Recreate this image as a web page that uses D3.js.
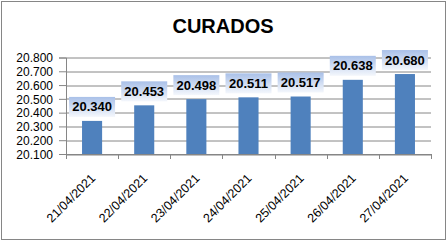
<!DOCTYPE html>
<html>
<head>
<meta charset="utf-8">
<script src="https://cdn.jsdelivr.net/npm/d3@7"></script>
<style>
  body { margin: 0; background: #fff; }
  svg { display: block; font-family: "Liberation Sans", Arial, sans-serif; }
</style>
</head>
<body>
<div id="chart"></div>
<script>
// Chart data
var dates = ["21/04/2021", "22/04/2021", "23/04/2021", "24/04/2021", "25/04/2021", "26/04/2021", "27/04/2021"];
var curados = [20.340, 20.453, 20.498, 20.511, 20.517, 20.638, 20.680];
var yTicks = [20.1, 20.2, 20.3, 20.4, 20.5, 20.6, 20.7, 20.8];

var svgWidth = 447;
var svgHeight = 241;

var margin = { top: 57.5, right: 16, bottom: 87, left: 66 };
var width = svgWidth - margin.left - margin.right;
var height = svgHeight - margin.top - margin.bottom;

var svg = d3.select("#chart")
  .append("svg")
  .attr("width", svgWidth)
  .attr("height", svgHeight);

// outer border
svg.append("rect")
  .attr("x", 1.5).attr("y", 1.5)
  .attr("width", svgWidth - 3).attr("height", svgHeight - 3)
  .attr("fill", "#fff")
  .attr("stroke", "#868686");

// gradient for data labels
var grad = svg.append("defs").append("linearGradient")
  .attr("id", "lblGrad")
  .attr("x1", 0).attr("y1", 0).attr("x2", 0).attr("y2", 1);
grad.append("stop").attr("offset", "0%").attr("stop-color", "#a9c0e8");
grad.append("stop").attr("offset", "100%").attr("stop-color", "#f4f7fc");

// title
svg.append("text")
  .attr("x", 223)
  .attr("y", 33)
  .attr("text-anchor", "middle")
  .style("font-size", "20px")
  .style("font-weight", "bold")
  .text("CURADOS");

var chartGroup = svg.append("g")
  .attr("transform", `translate(${margin.left}, ${margin.top})`);

var xBandScale = d3.scaleBand()
  .domain(dates)
  .range([0, width])
  .paddingInner(0.615)
  .paddingOuter(0.3075);

var yLinearScale = d3.scaleLinear()
  .domain([20.1, 20.8])
  .range([height, 0]);

// gridlines
chartGroup.append("g")
  .selectAll("line")
  .data(yTicks)
  .enter()
  .append("line")
  .attr("x1", 0)
  .attr("x2", width)
  .attr("y1", d => Math.round(yLinearScale(d)) + 0.5)
  .attr("y2", d => Math.round(yLinearScale(d)) + 0.5)
  .attr("stroke", "#868686");

// y axis
var leftAxis = d3.axisLeft(yLinearScale)
  .tickValues(yTicks)
  .tickSize(7)
  .tickPadding(6)
  .tickFormat(d3.format(".3f"));

var yAxis = chartGroup.append("g")
  .call(leftAxis);
yAxis.select(".domain").attr("stroke", "#868686");
yAxis.selectAll(".tick line").attr("stroke", "#868686");
yAxis.selectAll(".tick text")
  .style("font-size", "12px")
  .attr("fill", "#000")
  .attr("dy", "0.36em");

// bars
chartGroup.selectAll("rect.bar")
  .data(curados)
  .enter()
  .append("rect")
  .attr("class", "bar")
  .attr("x", (d, i) => xBandScale(dates[i]))
  .attr("y", d => yLinearScale(d))
  .attr("width", xBandScale.bandwidth())
  .attr("height", d => height - yLinearScale(d))
  .attr("fill", "#4f81bd");

// x axis (ticks at category boundaries)
var step = xBandScale.step();
var xAxis = chartGroup.append("g")
  .attr("transform", `translate(0, ${height})`);
xAxis.append("line")
  .attr("x1", 0).attr("x2", width)
  .attr("y1", 0.5).attr("y2", 0.5)
  .attr("stroke", "#868686");
xAxis.selectAll("line.tk")
  .data(d3.range(dates.length + 1))
  .enter()
  .append("line")
  .attr("class", "tk")
  .attr("x1", i => Math.round(i * step) + 0.5)
  .attr("x2", i => Math.round(i * step) + 0.5)
  .attr("y1", 0).attr("y2", 5)
  .attr("stroke", "#868686");

xAxis.selectAll("text")
  .data(dates)
  .enter()
  .append("text")
  .attr("transform", d => `translate(${xBandScale(d) + xBandScale.bandwidth() / 2 + 4}, 25) rotate(-45)`)
  .attr("text-anchor", "end")
  .style("font-size", "12.5px")
  .attr("fill", "#000")
  .text(d => d);

// data labels
var labels = chartGroup.selectAll("g.lbl")
  .data(curados)
  .enter()
  .append("g")
  .attr("class", "lbl")
  .attr("transform", (d, i) => `translate(${xBandScale(dates[i]) + xBandScale.bandwidth() / 2}, ${yLinearScale(d) - 4})`);

labels.append("rect")
  .attr("x", -23)
  .attr("y", -20)
  .attr("width", 46)
  .attr("height", 20)
  .attr("fill", "url(#lblGrad)");

labels.append("text")
  .attr("y", -5.5)
  .attr("text-anchor", "middle")
  .style("font-size", "13px")
  .style("font-weight", "bold")
  .attr("fill", "#000")
  .text(d => d3.format(".3f")(d));
</script>
</body>
</html>
